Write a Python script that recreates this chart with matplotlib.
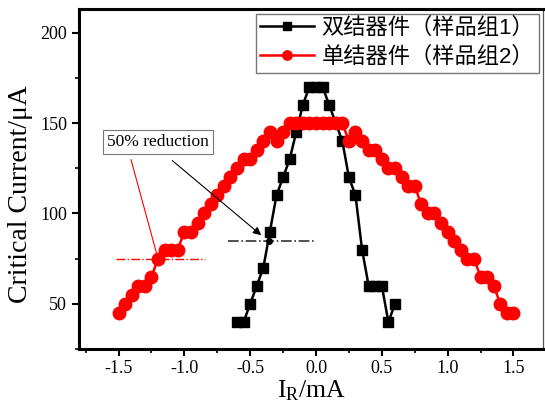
import matplotlib
matplotlib.use("Agg")
import matplotlib.pyplot as plt
from matplotlib.ticker import MultipleLocator

plt.rcParams['axes.unicode_minus'] = False
plt.rcParams['mathtext.fontset'] = 'custom'
plt.rcParams['mathtext.rm'] = 'Liberation Serif'
plt.rcParams['mathtext.it'] = 'Liberation Serif'

# Sample group 1 (double-junction device)
x1 = [-0.6, -0.55, -0.5, -0.45, -0.4, -0.35, -0.3, -0.25, -0.2, -0.15, -0.1, -0.05, 0.0,
      0.05, 0.1, 0.15, 0.2, 0.25, 0.3, 0.35, 0.4, 0.45, 0.5, 0.55, 0.6]
y1 = [40, 40, 50, 60, 70, 90, 110, 120, 130, 145, 160, 170, 170,
      170, 160, 150, 140, 120, 110, 80, 60, 60, 60, 40, 50]

# Sample group 2 (single-junction device)
x2 = [round(-1.5 + 0.05 * i, 2) for i in range(61)]
y2 = [45, 50, 55, 60, 60, 65, 75, 80, 80, 80, 90, 90, 95, 100, 105, 110, 115, 120, 125, 130,
      130, 135, 140, 145, 140, 145,
      150, 150, 150, 150, 150, 150, 150, 150, 150,
      140, 145, 140, 135, 135, 130, 125, 125, 120, 115, 115, 105, 100, 100, 95, 90,
      85, 80, 75, 75, 65, 65, 60, 50, 45, 45]

labels = ['双结器件（样品组1）', '单结器件（样品组2）']
xticks = [-1.5, -1.0, -0.5, 0.0, 0.5, 1.0, 1.5]
yticks = [50, 100, 150, 200]

# reference levels (50% reduction)
half1 = 85
half2 = 75

fig = plt.figure(figsize=(5.45, 4.05), dpi=100)
ax = fig.add_axes([0.145, 0.138, 0.8515, 0.8395])

ax.plot(x1, y1, '-s', color='black', lw=1.8, ms=7, label=labels[0], zorder=3)
ax.plot(x2, y2, '-o', color='red', lw=1.8, ms=9, label=labels[1], zorder=4)

ax.plot([-0.67, 0.0], [half1, half1], color='#333333', lw=1.2, ls='-.', zorder=2)
ax.plot([-1.52, -0.84], [half2, half2], color='red', lw=1.0, ls='-.', zorder=2)
ax.plot([-0.36], [half1], 'o', color='black', ms=4, zorder=5)

ax.text(-1.2, 139.5, '50% reduction', family='Liberation Serif', fontsize=12.5,
        ha='center', va='center', zorder=6,
        bbox=dict(boxstyle='square,pad=0.25', fc='white', ec='#777777', lw=0.8))
ax.annotate('', xy=(-0.40, 87), xytext=(-1.107, 130.2),
            arrowprops=dict(arrowstyle='-|>', color='black', lw=0.8, mutation_scale=12), zorder=6)
ax.plot([-1.405, -1.2], [129.7, half2], color='red', lw=0.8, zorder=2)

ax.set_xlim(-1.8, 1.725)
ax.set_ylim(25, 213)
ax.set_xticks(xticks)
ax.set_xticklabels([f'{t:.1f}' for t in xticks])
ax.set_yticks(yticks)
ax.xaxis.set_minor_locator(MultipleLocator(0.25))
ax.yaxis.set_minor_locator(MultipleLocator(25))

for lab in ax.get_xticklabels() + ax.get_yticklabels():
    lab.set_family('Liberation Serif')
    lab.set_fontsize(13)

ax.tick_params(which='major', direction='out', length=5, width=1.5, top=False, right=False)
ax.tick_params(axis='x', which='major', pad=3)
ax.tick_params(which='minor', direction='out', length=3, width=1.2, top=False, right=False)

for s in ['left', 'bottom', 'top']:
    ax.spines[s].set_linewidth(2.2)
ax.spines['right'].set_linewidth(0.9)
ax.spines['right'].set_color('#555555')

ax.set_xlabel(r'$\mathrm{I_R}$/mA', family='Liberation Serif', fontsize=18.5, labelpad=0.5)
ax.set_ylabel('Critical Current/μA', family='Liberation Serif', fontsize=20)
ax.yaxis.set_label_coords(-0.10, 0.455)

leg = ax.legend(loc='upper right', bbox_to_anchor=(1.0, 1.0), borderaxespad=0.2,
                prop={'family': ['Liberation Sans', 'Noto Sans CJK SC'], 'size': 16},
                fancybox=False, edgecolor='#777777', framealpha=1, markerscale=0.75,
                handlelength=2.4, handletextpad=0.35, borderpad=0.2, labelspacing=0.35)
leg.get_frame().set_linewidth(1.0)

fig.savefig('out.png', dpi=100)
